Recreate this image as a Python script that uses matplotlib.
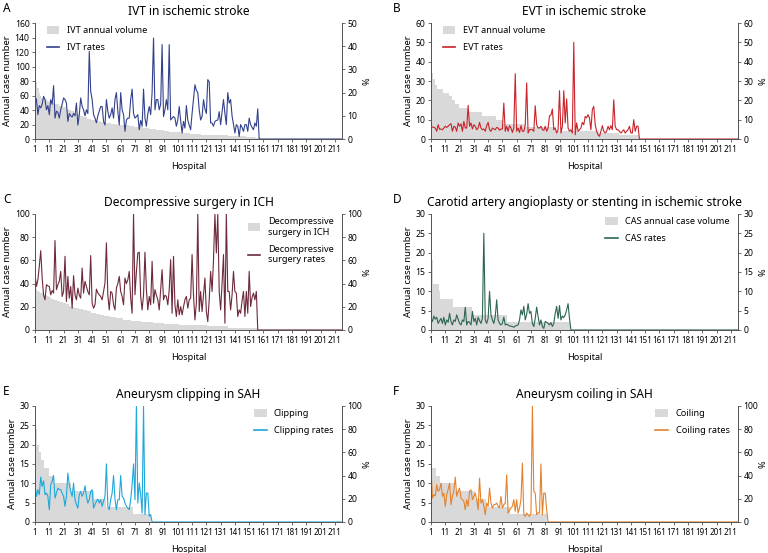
import numpy as np
import matplotlib
matplotlib.use("Agg")
import matplotlib.pyplot as plt
from matplotlib.patches import Patch
from matplotlib.lines import Line2D

plt.rcParams["font.family"] = ["Noto Sans", "DejaVu Sans"]

N_HOSP = 216

# ---- A: IVT ----
ivt_vol_levels = [82, 78, 70, 63, 60, 57, 55, 53, 50, 48, 46, 44, 42, 40, 38, 36, 34, 32,
                  30, 28, 26, 25, 24, 22, 21, 20, 19, 18, 17, 16, 15, 14, 13, 12, 11, 10,
                  9, 8, 7, 6, 5, 4, 3, 2]
ivt_vol_counts = [1, 1, 1, 1, 1, 2, 2, 2, 3, 3, 3, 2, 2, 2, 2, 2, 2, 2,
                  3, 3, 3, 3, 4, 4, 4, 4, 4, 4, 3, 3, 4, 5, 3, 3, 3, 4,
                  5, 6, 8, 9, 10, 12, 7, 4]
ivt_rates = [18.4, 17, 10.5, 14.4, 13.4, 15, 18.4, 17, 12.6, 14.4, 10.5, 17, 15, 23, 9, 12, 11.5, 9, 12.6, 15,
             17.7, 17, 15.5, 7.6, 11, 10, 9.5, 11, 10, 15.5, 6, 10.5, 17.7, 14, 12.6, 10, 12.6, 11, 37.8, 20.5,
             17, 10.5, 9, 7, 10, 12, 14, 14, 7.6, 6, 17, 12, 9, 10.5, 13.4, 9, 17, 20, 12, 6,
             20, 12.6, 10.5, 3.3, 8.2, 9, 9, 17, 21.5, 11, 9, 9.7, 10.5, 4, 8, 5.5, 21.5, 9, 5.5, 11,
             14, 10.5, 20, 43.5, 12.6, 17, 17, 12.6, 15, 40.7, 9.7, 12.6, 17, 12.6, 40.7, 8.2, 9, 9.7, 9, 5.5,
             8.2, 14, 8, 2.6, 7.6, 4.7, 14.4, 8.2, 6, 4, 11, 17, 23.4, 21, 20, 12.6, 8.2, 9.7, 17, 13,
             11, 25.6, 24.7, 6.9, 6.9, 5.5, 7.6, 8, 8.2, 11.8, 6.2, 11.8, 17, 11, 6.2, 20, 15.5, 17, 10, 6.2,
             2.6, 6.2, 5.5, 1.1, 6.2, 5, 3.3, 6.2, 6.2, 3.3, 9, 6.2, 5, 4, 6.9, 5.5, 13, 0]

# ---- B: EVT ----
evt_vol_levels = [56, 34, 31, 28, 26, 24, 22, 20, 18, 16, 14, 12, 10, 8, 6, 4, 3, 2]
evt_vol_counts = [1, 1, 1, 2, 4, 4, 2, 2, 3, 6, 10, 10, 5, 15, 22, 30, 14, 14]
evt_rates = [6.6, 6.2, 6.0, 5.7, 4.0, 7.4, 5.0, 5.2, 4.8, 5.7, 6.6, 6.0, 6.6, 7.4, 7.9, 4.0, 6.6, 6.2, 4.0, 8.3,
             6.6, 7.9, 4.0, 9.1, 5.7, 5.7, 17.4, 6.6, 8.3, 5.2, 7.4, 6.6, 4.8, 5.7, 8.6, 5.7, 4.8, 5.2, 4.0, 6.9,
             8.6, 4.8, 4.0, 5.7, 5.2, 4.8, 6.0, 5.7, 4.5, 5.2, 5.2, 18.6, 4.0, 6.6, 4.0, 6.9, 5.7, 3.4, 5.7, 33.8,
             4.0, 5.7, 3.4, 6.9, 4.0, 4.0, 7.0, 29.0, 3.1, 4.8, 5.0, 4.8, 4.0, 17.2, 7.4, 5.7, 5.7, 6.6, 4.8, 4.5,
             6.6, 4.0, 5.7, 12.0, 12.4, 15.5, 4.8, 5.7, 3.1, 4.8, 25.0, 3.1, 6.6, 25.0, 8.3, 20.7, 5.7, 4.0, 4.8, 3.1,
             50.0, 2.2, 8.3, 4.0, 4.8, 5.7, 8.6, 7.4, 11.7, 10.9, 12.6, 10.9, 4.8, 15.2, 16.9, 7.4, 4.0, 2.2, 1.4, 4.0,
             6.9, 4.0, 3.1, 4.0, 6.6, 4.8, 6.9, 4.8, 20.3, 6.6, 4.8, 4.8, 4.0, 3.1, 4.0, 4.8, 3.1, 4.0, 4.8, 6.6,
             3.1, 3.1, 10.0, 4.0, 6.6, 6.6, 0]

# ---- C: decompressive surgery ----
dec_vol_levels = [38, 35, 34, 33, 32, 31, 30, 29, 28, 27, 26, 25, 24, 23, 22, 21, 20, 19,
                  18, 17, 16, 15, 14, 13, 12, 11, 10, 9, 8, 7, 6, 5, 4, 3, 2]
dec_vol_counts = [1, 1, 1, 1, 2, 1, 2, 1, 2, 2, 2, 2, 2, 2, 2, 2, 2, 3,
                  3, 3, 3, 3, 3, 3, 4, 4, 5, 6, 7, 8, 8, 10, 20, 15, 20]
dec_rates = [47.7, 37.5, 43.3, 55, 68.4, 45, 30, 26, 39, 38, 37.5, 30.3, 34, 31.8, 77.1, 34.7, 39, 42, 50.5, 28.9,
             33.2, 63.5, 24.5, 46.2, 27.4, 37.5, 18.8, 46.8, 30.3, 26, 36.1, 30, 27.4, 53.4, 31.8, 41.9, 37.5, 33, 30.3, 64.1,
             23.1, 18.8, 21.7, 35.2, 32, 30.3, 28.9, 26, 33.2, 40.4, 75.1, 30, 17.3, 33.2, 31.8, 21.7, 17.3, 36.1, 40, 46.2,
             33.2, 28.9, 21.7, 44.8, 40, 43.3, 50.5, 27.4, 14.4, 100, 30.3, 50, 66.4, 67, 28.9, 17.3, 30.3, 67, 35, 17.3,
             28.9, 21.7, 59.2, 23.1, 34.7, 30, 26, 17.3, 34.7, 52, 26, 30, 28.9, 21.7, 34.7, 60.6, 14.4, 63.5, 21.7, 11.6,
             26, 13, 20.2, 13, 20, 26, 28.9, 18.8, 26, 27.4, 65, 30, 8.7, 23.1, 100, 15.9, 33.2, 15.9, 30, 44.8,
             15.9, 7.2, 26, 50.5, 33.2, 60, 100, 66.4, 100, 33.2, 17.3, 40, 65, 5.8, 100, 33.2, 33.2, 17.3, 30, 50.5,
             33.2, 31.8, 11.6, 17.3, 14.4, 25, 33.2, 11.6, 33.2, 14.4, 50.5, 20.2, 28, 31.8, 26, 33.2, 0]

# ---- D: CAS ----
cas_vol_levels = [18, 12, 10, 8, 6, 4, 2]
cas_vol_counts = [2, 4, 1, 9, 13, 25, 44]
cas_rates = [3.0, 2.2, 3.6, 2.8, 3.3, 1.7, 2.4, 3.0, 1.7, 3.3, 1.3, 2.6, 2.0, 4.3, 2.2, 1.3, 2.6, 2.2, 3.9, 2.8,
             1.7, 1.3, 2.6, 2.2, 5.9, 1.3, 2.2, 2.0, 1.3, 4.8, 2.2, 3.0, 1.3, 3.3, 2.4, 1.7, 3.0, 25.0, 2.6, 1.7,
             3.0, 10.0, 3.9, 2.6, 1.7, 3.5, 7.8, 2.6, 1.7, 1.3, 1.7, 3.3, 1.3, 1.5, 1.3, 1.0, 1.0, 0.9, 0.7, 1.0,
             1.2, 1.3, 2.6, 5.2, 3.9, 6.1, 2.6, 4.0, 6.8, 4.3, 4.8, 1.7, 0.9, 3.0, 5.9, 3.5, 1.3, 2.6, 0.9, 0.4,
             2.2, 2.0, 1.7, 1.3, 1.9, 0.9, 1.7, 4.3, 6.1, 3.0, 6.3, 2.6, 3.6, 3.2, 3.9, 5.2, 6.8, 3.0, 0]

# ---- E: clipping ----
clip_vol_levels = [24, 20, 18, 16, 14, 12, 10, 8, 6, 4, 2]
clip_vol_counts = [2, 1, 2, 2, 3, 4, 12, 16, 8, 19, 13]
clip_rates = [32.1, 22.1, 27.8, 23.5, 38.7, 30.7, 35.5, 23.5, 24.9, 22.1, 10.6, 32.1, 35, 40.1, 20.6, 24.9, 29.2, 28, 27.8, 24.9,
              22.1, 13.5, 22.1, 42.1, 32.1, 26.4, 22.1, 33.5, 19.2, 15, 12, 23.5, 26.4, 22.1, 24.9, 31.2, 22, 16.3, 19.2, 26.4,
              27.8, 12, 15, 17.8, 19.8, 16.3, 19.2, 13.5, 18, 22.1, 50.1, 13.5, 10.6, 19.2, 24.9, 40.1, 20, 10.6, 19.2, 19.2,
              40.1, 22.1, 20.6, 16.3, 13.5, 12, 10.6, 19.2, 32.1, 50.1, 19.2, 100, 16.3, 33.5, 23.5, 7.7, 100, 6.3, 24.9, 24.9,
              4.9, 6.3, 0]

# ---- F: coiling ----
coil_vol_levels = [16, 14, 12, 10, 8, 6, 4, 2]
coil_vol_counts = [1, 3, 3, 10, 14, 8, 17, 26]
coil_rates = [47.9, 20.6, 23.5, 22.6, 32.1, 26.4, 28, 33.5, 22.1, 24.9, 13.5, 23.5, 28, 33.5, 14.9, 22.1, 26.4, 38.7, 22.1, 26.4,
              29.2, 20.6, 19.2, 18, 10.6, 19.2, 13.5, 26.4, 27.8, 19.2, 22, 24.9, 19.2, 10.6, 37.8, 16.3, 19.2, 14, 6.3, 16.3,
              13.5, 29.2, 16.3, 12, 14.9, 15, 16.3, 13.5, 12, 22.1, 12, 14.9, 16.3, 40.7, 7.7, 10, 12, 13.5, 19.2, 9.2,
              19.2, 7.7, 12, 19.2, 50.7, 6.3, 4.9, 7.7, 6, 4.9, 7.7, 100, 26.4, 24.9, 6.3, 8, 7.7, 50, 6.3, 24.9,
              24.9, 10.6, 0]

GRAY = "#d9d9d9"
SPINE = "#555555"


def pad(values):
    out = np.zeros(N_HOSP)
    out[:len(values)] = values
    return out


def panel(rect, letter, letter_x, title, levels, counts, rates, color, ylim_l, step_l, ylim_r, step_r,
          vol_label, rate_label, legend_loc, legend_anchor):
    hosp = np.arange(1, N_HOSP + 1)
    vol = pad(np.repeat(levels, counts))
    rate = pad(rates)

    ax = fig.add_axes(rect)
    ax.fill_between(hosp, vol, step="mid", color=GRAY, linewidth=0)
    ax.set_xlim(1, N_HOSP)
    ax.set_ylim(0, ylim_l)
    ax.set_yticks(np.arange(0, ylim_l + 0.1, step_l))
    ax.set_xticks(np.arange(1, 212, 10))
    ax.set_xlabel("Hospital", fontsize=6.5, labelpad=6)
    ax.set_ylabel("Annual case number", fontsize=6.8, labelpad=2)

    ax2 = ax.twinx()
    ax2.plot(hosp, rate, color=color, lw=0.8)
    ax2.set_ylim(0, ylim_r)
    ax2.set_yticks(np.arange(0, ylim_r + 0.1, step_r))
    ax2.set_ylabel("%", fontsize=6.5, rotation=90, va="center")
    ax2.yaxis.set_label_coords(1.082, 0.5)

    for a in (ax, ax2):
        a.spines["top"].set_visible(False)
        for s in ("left", "right", "bottom"):
            a.spines[s].set_color(SPINE)
            a.spines[s].set_linewidth(0.7)
        a.tick_params(labelsize=6.2, length=2.5, width=0.6, color=SPINE, pad=1.5)
    ax.tick_params(axis="x", labelsize=5.8)

    handles = [Patch(facecolor=GRAY, edgecolor="none"), Line2D([], [], color=color, lw=1.2)]
    ax2.legend(handles, [vol_label, rate_label], loc=legend_loc, bbox_to_anchor=legend_anchor,
               frameon=False, fontsize=6.6, handlelength=1.4, handleheight=0.9,
               labelspacing=0.9, borderaxespad=0.2)

    ax.set_title(title, fontsize=8.6, pad=6)
    x0, y0, w, h = rect
    fig.text(letter_x, y0 + h + 0.027, letter, fontsize=8.5, fontweight="bold", va="center")


fig = plt.figure(figsize=(7.68, 5.53), dpi=100)

W = 0.3997
H = 0.2098
XL, XR = 0.0456, 0.5612
LL, LR = 0.004, 0.512
Y1, Y2, Y3 = 0.7486, 0.4033, 0.0561

panel([XL, Y1, W, H], "A", LL, "IVT in ischemic stroke", ivt_vol_levels, ivt_vol_counts, ivt_rates,
      "#33418c", 160, 20, 50, 10, "IVT annual volume", "IVT rates", "upper left", (0.02, 1.02))
panel([XR, Y1, W, H], "B", LR, "EVT in ischemic stroke", evt_vol_levels, evt_vol_counts, evt_rates,
      "#c9232b", 60, 10, 60, 10, "EVT annual volume", "EVT rates", "upper left", (0.02, 1.02))
panel([XL, Y2, W, H], "C", LL, "Decompressive surgery in ICH", dec_vol_levels, dec_vol_counts, dec_rates,
      "#6e2a3b", 100, 20, 100, 20, "Decompressive\nsurgery in ICH", "Decompressive\nsurgery rates",
      "upper right", (0.99, 1.02))
panel([XR, Y2, W, H], "D", LR, "Carotid artery angioplasty or stenting in ischemic stroke",
      cas_vol_levels, cas_vol_counts, cas_rates, "#2c6650", 30, 5, 30, 5,
      "CAS annual case volume", "CAS rates", "upper right", (0.99, 1.02))
panel([XL, Y3, W, H], "E", LL, "Aneurysm clipping in SAH", clip_vol_levels, clip_vol_counts, clip_rates,
      "#1fa8dc", 30, 5, 100, 20, "Clipping", "Clipping rates", "upper right", (0.99, 1.02))
panel([XR, Y3, W, H], "F", LR, "Aneurysm coiling in SAH", coil_vol_levels, coil_vol_counts, coil_rates,
      "#e5822d", 30, 5, 100, 20, "Coiling", "Coiling rates", "upper right", (0.99, 1.02))

fig.savefig("out.png", dpi=100)
